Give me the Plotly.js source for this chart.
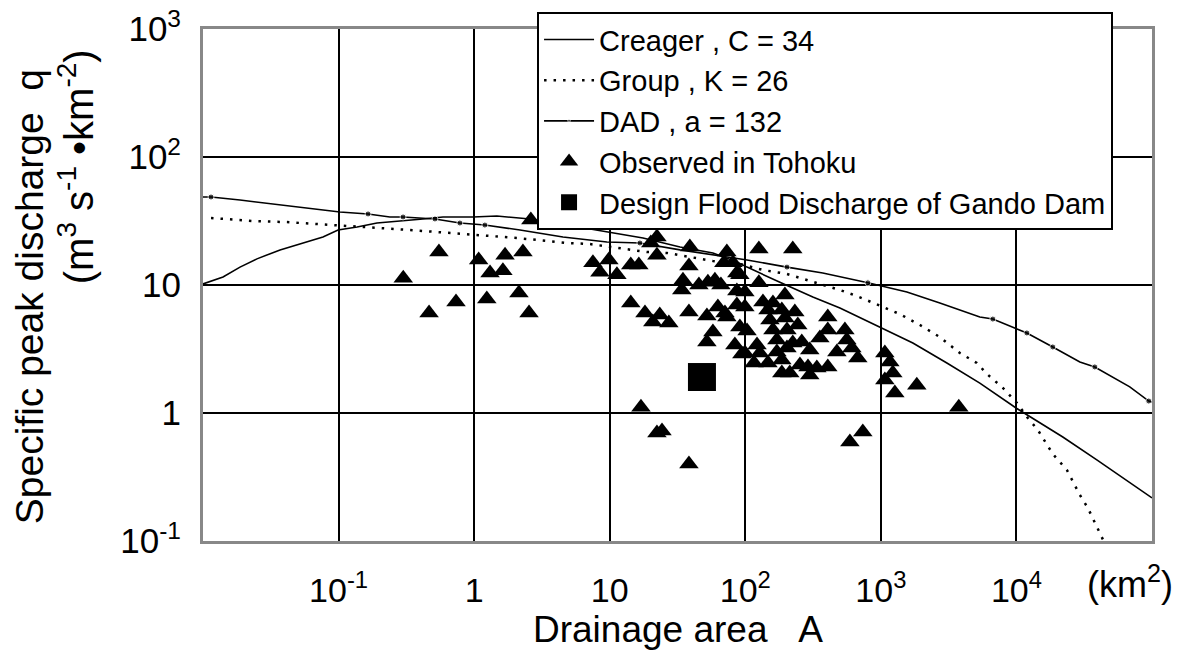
<!DOCTYPE html>
<html>
<head>
<meta charset="utf-8">
<script src="https://cdn.plot.ly/plotly-3.0.1.min.js"></script>
<style>html,body{margin:0;padding:0;background:#fff;}#chart{width:1183px;height:659px;}</style>
</head>
<body>
<div id="chart"></div>
<script>
// Creager curve, C = 34 (drainage area km2, specific discharge)
const creagerArea = [0.01,0.01405,0.01875,0.025,0.037,0.0585,0.0767,0.0991,0.137,0.192,0.299,0.419,0.589,0.98,1.47,2.58,4.83,9.53,17.6,33.0,57.7,86.7,103,180,315,499,984,1722,3069,5370,10000,21980,39170,68550,100000];
const creagerQ    = [10.2,11.55,13.8,16.0,18.8,21.7,23.7,26.9,28.4,30.5,31.6,32.8,34.0,34.0,34.6,32.8,29.4,25.9,23.3,19.8,17.8,15.1,13.8,10.5,8.06,6.61,4.70,3.52,2.46,1.71,1.09,0.649,0.430,0.284,0.217];

// Group curve, K = 26
const groupArea = [0.01146,0.0234,0.0416,0.0705,0.1114,0.212,0.337,0.541,0.885,1.24,2.07,3.44,4.83,7.14,11.9,18.8,26.4,39.0,57.7,91.2,135,203,310,499,665,984,1380,1941,2723,3828,5105,6053,7943,10070,12130,14390,18540,23550,29370,33650,39810,44870,50500];
const groupQ    = [33.4,31.6,31.0,30.0,28.9,27.9,26.9,25.9,25.0,24.1,23.3,22.1,21.3,20.9,19.5,18.1,17.8,16.6,15.4,14.6,13.1,12.2,10.7,9.14,8.20,6.85,5.93,4.87,3.92,2.94,2.46,2.02,1.57,1.20,0.914,0.737,0.479,0.359,0.229,0.181,0.126,0.0964,0.0736];

// DAD curve, a = 132 (dadMark: 1 where a small dot is drawn on the line)
const dadArea = [0.01,0.01146,0.01875,0.0328,0.0585,0.1023,0.165,0.239,0.299,0.514,0.785,1.20,2.18,4.52,9.53,16.7,33.0,76.9,103,203,373,802,1556,2723,5370,6699,11940,18540,29370,37850,68550,94650,100000];
const dadQ    = [48.7,48.7,46.1,42.9,40.0,37.2,35.9,34.0,34.0,32.8,30.5,29.4,26.9,23.7,21.7,21.3,18.8,16.6,15.7,13.8,12.4,10.4,8.82,7.23,5.62,5.42,4.22,3.28,2.50,2.29,1.60,1.24,1.22];
const dadMark = [0,1,0,0,0,0,1,0,1,1,1,1,0,0,0,1,0,0,0,1,0,1,0,0,0,1,1,1,0,1,0,1,0];

// Observed in Tohoku
const obsArea = [0.30,0.465,0.55,0.735,1.08,1.24,1.31,1.63,1.69,2.14,2.29,2.54,2.62,3.56,
  7.52,9.86,8.47,11.3,14.3,16.4,20.1,22.3,22.3,39.0,38.4,14.3,18.2,23.4,20.8,27.3,38.4,34.7,34.0,45.5,53.0,59.7,66.1,52.1,57.7,52.1,
  73.1,126,224,69.5,81.1,86.7,86.7,99.3,91.2,126,62.8,70.8,73.1,86.7,99.3,91.2,103,83.8,94.4,122,128,116,99.3,
  135,160,147,186,196,232,152,196,244,160,203,171,224,261,203,171,299,147,186,253,290,337,406,186,213,299,355,406,406,543,561,474,611,676,
  1070,1165,1225,1070,1268,1841,
  17.0,22.3,24.3,38.4,591,736,3758];
const obsQ = [11.3,6.04,18.1,7.36,15.7,7.78,12.4,12.9,17.1,8.66,18.1,6.04,32.2,31.0,
  14.9,15.7,12.6,12.0,14.3,14.3,21.3,23.7,17.1,19.8,14.1,7.23,6.04,5.83,5.14,5.05,6.15,10.9,9.14,10.0,10.5,10.9,10.0,5.73,4.29,3.59,
  18.1,19.1,19.1,14.9,14.9,12.4,8.98,8.82,12.0,10.4,6.73,6.04,5.62,6.98,6.73,4.70,4.37,3.40,2.89,3.40,2.94,2.46,2.94,
  7.36,7.23,6.38,6.38,8.35,6.15,5.33,5.52,4.87,4.45,4.45,3.72,3.52,3.59,3.22,3.00,3.10,2.46,2.59,2.37,2.29,2.25,2.29,2.05,2.05,1.98,3.85,5.62,4.45,4.45,3.72,3.00,3.22,2.69,
  2.94,2.50,2.05,1.81,1.43,1.65,
  1.11,0.698,0.723,0.40,0.593,0.711,1.11];

// Design flood discharge of Gando Dam
const damArea = [47.9];
const damQ = [1.91];

// Tick labels
const xTickVals = [0.1,1,10,100,1000,10000];
const xTickText = ['10<sup>-1</sup>','1','10','10<sup>2</sup>','10<sup>3</sup>','10<sup>4</sup>'];
const yTickVals = [0.1,1,10,100,1000];
const yTickText = ['10<sup>-1</sup>','1','10','10<sup>2</sup>','10<sup>3</sup>'];

const FONT = 'Liberation Sans, Arial, sans-serif';

const traces = [
  {x: creagerArea, y: creagerQ, mode: 'lines', name: 'Creager , C = 34',
   line: {color: '#000', width: 1.6}},
  {x: groupArea, y: groupQ, mode: 'lines', name: 'Group , K = 26',
   line: {color: '#000', width: 2.5, dash: '2.5px,7px'}},
  {x: dadArea, y: dadQ, mode: 'lines+markers', name: 'DAD , a = 132',
   line: {color: '#000', width: 1.6},
   marker: {color: '#000', symbol: 'circle', size: dadMark.map(m => m ? 6 : 0)}},
  {x: obsArea, y: obsQ, mode: 'markers', name: 'Observed in Tohoku',
   marker: {color: '#000', symbol: 'triangle-up', size: 17}},
  {x: damArea, y: damQ, mode: 'markers', name: 'Design Flood Discharge of Gando Dam',
   marker: {color: '#000', symbol: 'square', size: 28}}
];

const layout = {
  width: 1183, height: 659,
  margin: {l: 203, r: 31, t: 29, b: 118},
  paper_bgcolor: '#fff', plot_bgcolor: '#fff',
  font: {family: FONT, color: '#000', size: 30},
  showlegend: true,
  legend: {x: 0.352, y: 1.033, xanchor: 'left', yanchor: 'top',
    bgcolor: '#fff', bordercolor: '#000', borderwidth: 2, itemwidth: 50,
    font: {family: FONT, size: 29, color: '#000'}, tracegroupgap: 0},
  xaxis: {type: 'log', range: [-2, 5], tickvals: xTickVals, ticktext: xTickText,
    showgrid: true, gridcolor: '#000', gridwidth: 2, zeroline: false,
    showline: true, linecolor: '#888', linewidth: 3, mirror: true, ticks: '',
    ticklabelstandoff: 17,
    tickfont: {family: FONT, size: 34, color: '#000'}},
  yaxis: {type: 'log', range: [-1, 3], tickvals: yTickVals, ticktext: yTickText,
    showgrid: true, gridcolor: '#000', gridwidth: 2, zeroline: false,
    showline: true, linecolor: '#888', linewidth: 3, mirror: true, ticks: '',
    ticklabelstandoff: 12,
    tickfont: {family: FONT, size: 35, color: '#000'}},
  annotations: [
    {text: 'Drainage area\u00a0\u00a0\u00a0A', xref: 'paper', yref: 'paper', x: 0.5, y: -0.172,
     xanchor: 'center', yanchor: 'middle', showarrow: false, font: {family: FONT, size: 37, color: '#000'}},
    {text: '(km<sup>2</sup>)', xref: 'paper', yref: 'paper', x: 0.977, y: -0.08,
     xanchor: 'center', yanchor: 'middle', showarrow: false, font: {family: FONT, size: 36, color: '#000'}},
    {text: 'Specific peak discharge\u00a0\u00a0q', xref: 'paper', yref: 'paper', x: -0.1834, y: 0.478,
     xanchor: 'center', yanchor: 'middle', textangle: -90, showarrow: false, font: {family: FONT, size: 39, color: '#000'}},
    {text: '(m<sup>3</sup> s<sup>-1</sup> \u2022km<sup>-2</sup>)', xref: 'paper', yref: 'paper', x: -0.1338, y: 0.73,
     xanchor: 'center', yanchor: 'middle', textangle: -90, showarrow: false, font: {family: FONT, size: 40, color: '#000'}}
  ]
};

Plotly.newPlot('chart', traces, layout, {staticPlot: true, displayModeBar: false});
</script>
</body>
</html>
